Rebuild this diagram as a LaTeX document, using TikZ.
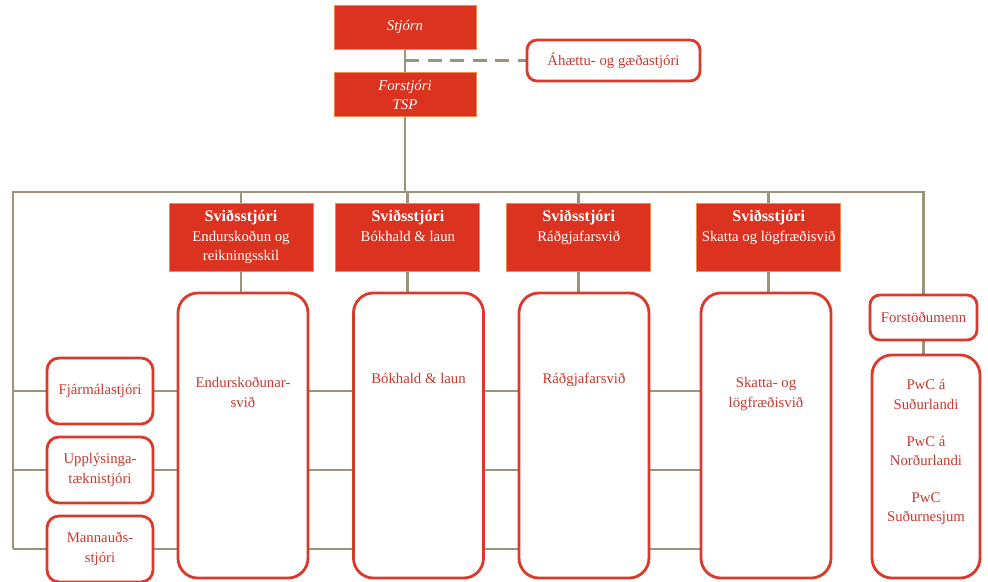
\documentclass[tikz,border=0pt]{standalone}
\usepackage{fontspec}
\setmainfont{Liberation Serif}
\usepackage{tikz}
\usetikzlibrary{positioning,backgrounds}

\definecolor{pwcfill}{HTML}{DC3320}
\definecolor{pwcedge}{HTML}{EE8A4C}
\definecolor{pwcred}{HTML}{D93A2C}
\definecolor{pwctext}{HTML}{C9392E}
\definecolor{linkgrey}{HTML}{9A957A}

\newcommand{\toptext}[4]{\parbox[c][#1][t]{#2}{\centering\vspace*{#3}#4}}
\newcommand{\chief}{{\fontsize{11.5}{14}\selectfont\textbf{Sviðsstjóri}}}

\begin{document}
\begin{tikzpicture}[x=0.025cm, y=-0.025cm,
            every node/.style={font=\fontsize{10.5}{14}\selectfont},
            headnode/.style={rectangle, draw=pwcedge, line width=.6pt, fill=pwcfill, text=white, minimum width=3.55cm, minimum height=1.1cm, align=center},
            chiefnode/.style={rectangle, draw=pwcedge, line width=.6pt, fill=pwcfill, text=white, minimum width=3.6cm, minimum height=1.7cm, inner sep=0pt},
            divnode/.style={rectangle, rounded corners=5mm, draw=pwcred, line width=2pt, fill=white, text=pwctext, minimum width=3.25cm, minimum height=7.125cm, inner sep=0pt},
            staffnode/.style={rectangle, rounded corners=3mm, draw=pwcred, line width=2pt, fill=white, text=pwctext, minimum width=2.65cm, minimum height=1.65cm, align=center},
            smallnode/.style={rectangle, rounded corners=2.5mm, draw=pwcred, line width=2pt, fill=white, text=pwctext, align=center},
            link/.style={draw=linkgrey, line width=2pt},
        ]
        \useasboundingbox (0,0) rectangle (988,581);
        % top of the chart
        \node[headnode]   (stjorn)    at (405,27)        {\textit{Stjórn}};
        \node[headnode]   (forstjori) [below = .575cm of stjorn] {\textit{Forstjóri}\\\textit{TSP}};
        \node[smallnode, minimum width=4.325cm, minimum height=1.025cm] (ahaettu) at (613.5,60.5) {Áhættu- og gæðastjóri};
        % division heads
        \node[chiefnode]  (svid1)     at (241,237.5)     {\toptext{1.7cm}{3.4cm}{.16cm}{\chief\\Endurskoðun og\\reikningsskil}};
        \node[chiefnode]  (svid2)     [right = .55cm of svid1] {\toptext{1.7cm}{3.4cm}{.16cm}{\chief\\Bókhald \& laun}};
        \node[chiefnode]  (svid3)     [right = .65cm of svid2] {\toptext{1.7cm}{3.4cm}{.16cm}{\chief\\Ráðgjafarsvið}};
        \node[chiefnode]  (svid4)     [right = 1.125cm of svid3] {\toptext{1.7cm}{3.4cm}{.16cm}{\chief\\Skatta og lögfræðisvið}};
        % divisions
        \node[divnode]    (div1)      at (243,435.5)     {\toptext{7.1cm}{3.1cm}{2.1cm}{Endurskoðunar-\\svið}};
        \node[divnode]    (div2)      at (418.5,435.5)   {\toptext{7.1cm}{3.1cm}{2.0cm}{Bókhald \& laun}};
        \node[divnode]    (div3)      at (584,435.5)     {\toptext{7.1cm}{3.1cm}{2.0cm}{Ráðgjafarsvið}};
        \node[divnode]    (div4)      at (766,435.5)     {\toptext{7.1cm}{3.1cm}{2.1cm}{Skatta- og\\lögfræðisvið}};
        % staff on the left
        \node[staffnode]  (fjarmal)   at (100,391)       {Fjármálastjóri};
        \node[staffnode]  (upplys)    at (100,470)       {Upplýsinga-\\tæknistjóri};
        \node[staffnode]  (mannaud)   at (100,549)       {Mannauðs-\\stjóri};
        % offices on the right
        \node[smallnode, minimum width=2.675cm, minimum height=1.125cm] (forsto) at (923.5,317.5) {Forstöðumenn};
        \node[divnode, minimum width=2.7cm, minimum height=5.575cm] (pwc) at (926,466.5) {\toptext{5.5cm}{2.6cm}{.58cm}{PwC á\\Suðurlandi\\[.42cm]PwC á\\Norðurlandi\\[.42cm]PwC\\Suðurnesjum}};
        \coordinate (busL) at (13,192);
        \begin{scope}[on background layer]
            \draw[link] (stjorn.south) -- (forstjori.north);
            \draw[link] (forstjori.south) -- (forstjori.south |- busL);
            \draw[link, dash pattern=on 10pt off 6pt] (stjorn.south |- ahaettu.west) -- (ahaettu.west);
            \draw[link, line join=miter] (busL |- mannaud) -- (busL) -- (forsto.north |- busL) -- (forsto.north);
            \draw[link] (forsto.south) -- (forsto.south |- pwc.north);
            \foreach \i in {1,...,4} {
                \draw[link] (svid\i.north |- busL) -- (svid\i.north);
                \draw[link] (svid\i.south) -- (svid\i.south |- div\i.north);
            }
            \foreach \r in {fjarmal, upplys, mannaud}
                \draw[link] (busL |- \r) -- (div4.west |- \r);
        \end{scope}
    \end{tikzpicture}
\end{document}
